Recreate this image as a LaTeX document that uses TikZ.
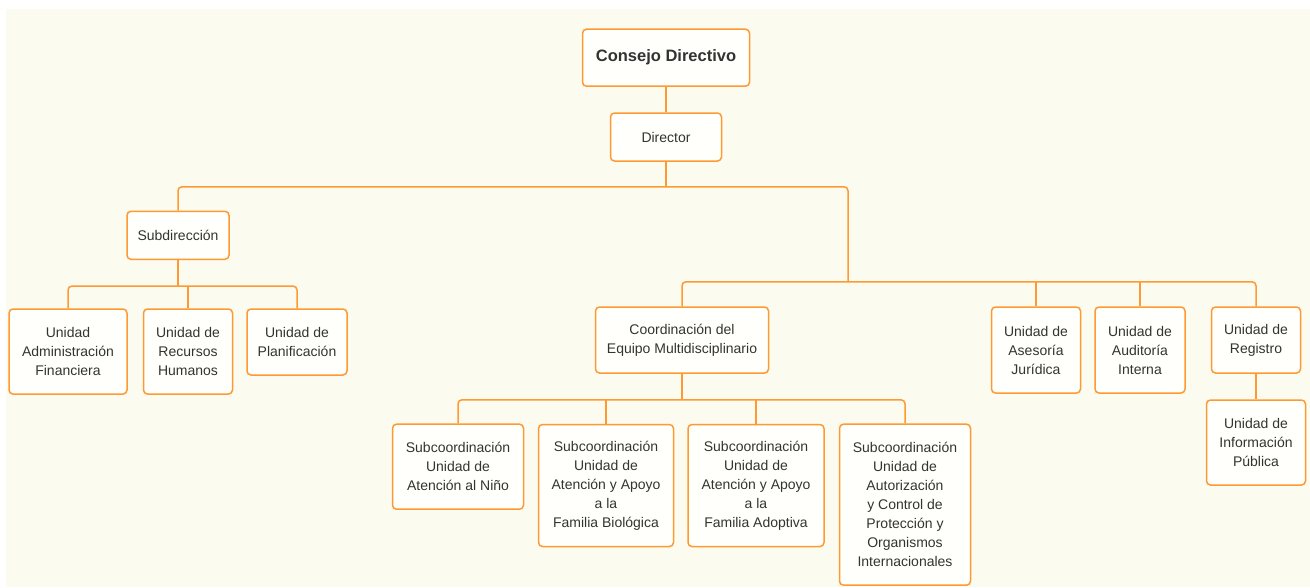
\documentclass[tikz,border=0pt]{standalone}
\usepackage{fontspec}
\setmainfont{Liberation Sans}
\usepackage{tikz}
\usetikzlibrary{calc}
\usetikzlibrary{positioning}
\definecolor{orgorange}{RGB}{255,153,51}
\definecolor{bgcream}{RGB}{251,251,240}
\definecolor{boxfill}{RGB}{255,255,251}
\definecolor{textgray}{RGB}{51,51,51}
\tikzstyle{orgnode} = [draw=orgorange, line width=1.5pt, rounded corners=4pt, fill=boxfill, text=textgray, align=center, inner sep=0pt, font=\fontsize{14}{19}\selectfont]
\tikzstyle{topnode} = [font=\fontsize{16.5}{20}\selectfont\bfseries]
\tikzstyle{orgline} = [draw=orgorange, line width=1.5pt, rounded corners=4pt]

\begin{document}
\begin{tikzpicture}[x=1pt, y=1pt]
\useasboundingbox (0,0) rectangle (1310,-587);
\fill[white] (0,0) rectangle (1310,-587);
\fill[bgcream] (6,-9) rectangle (1310,-587);

\node[orgnode, topnode, minimum width=167, minimum height=57] (consejo) at (666,-57.7) {Consejo Directivo};
\node[orgnode, minimum width=111, minimum height=48] (director) at ($(consejo)+(0,-79.3)$) {Director};

\node[orgnode, minimum width=102, minimum height=48] (subdir) at ($(director)+(-488,-98.3)$) {Subdirección};
\node[orgnode, minimum width=118, minimum height=85] (uaf) at ($(subdir)+(-110,-116.2)$) {Unidad\\Administración\\Financiera};
\node[orgnode, minimum width=89, minimum height=85] (urh) at ($(subdir)+(10,-116.2)$) {Unidad de\\Recursos\\Humanos};
\node[orgnode, minimum width=100, minimum height=66] (upl) at ($(subdir)+(119,-106.7)$) {Unidad de\\Planificación};

\node[orgnode, minimum width=173, minimum height=66] (coord) at ($(director)+(16,-203)$) {Coordinación del\\Equipo Multidisciplinario};
\node[orgnode, minimum width=89, minimum height=86] (asesoria) at ($(coord)+(354,-10)$) {Unidad de\\Asesoría\\Jurídica};
\node[orgnode, minimum width=90, minimum height=86] (auditoria) at ($(asesoria)+(104,0)$) {Unidad de\\Auditoría\\Interna};
\node[orgnode, minimum width=89, minimum height=66] (registro) at ($(coord)+(574,0)$) {Unidad de\\Registro};
\node[orgnode, minimum width=99, minimum height=85] (infopub) at ($(registro)+(0,-102.5)$) {Unidad de\\Información\\Pública};

\node[orgnode, minimum width=131, minimum height=85] (nino) at ($(coord)+(-224,-126.7)$) {Subcoordinación\\Unidad de\\Atención al Niño};
\node[orgnode, minimum width=135, minimum height=122] (biologica) at ($(coord)+(-76,-145.5)$) {Subcoordinación\\Unidad de\\Atención y Apoyo\\a la\\Familia Biológica};
\node[orgnode, minimum width=136, minimum height=122] (adoptiva) at ($(coord)+(74,-145.5)$) {Subcoordinación\\Unidad de\\Atención y Apoyo\\a la\\Familia Adoptiva};
\node[orgnode, minimum width=131, minimum height=161] (autoriza) at ($(coord)+(223,-164.7)$) {Subcoordinación\\Unidad de\\Autorización\\y Control de\\Protección y\\Organismos\\Internacionales};

\coordinate (dir_bus) at ($(director.south)+(0,-25)$);
\coordinate (right_bus) at ($(dir_bus)+(182,-95)$);
\coordinate (sub_bus) at ($(subdir.south)+(0,-26)$);
\coordinate (coord_bus) at ($(coord.south)+(0,-26)$);

\draw[orgline] (consejo) -- (director);
\draw[orgline] (director) -- (dir_bus);
\draw[orgline] (subdir.north) |- (dir_bus);
\draw[orgline] (dir_bus) -| (right_bus);

\draw[orgline] (subdir) -- (sub_bus);
\draw[orgline] (uaf.north) |- (sub_bus);
\draw[orgline] (urh.north) -- (urh.north |- sub_bus);
\draw[orgline] (upl.north) |- (sub_bus);

\draw[orgline] (coord.north) |- (right_bus);
\draw[orgline] (asesoria.north) -- (asesoria.north |- right_bus);
\draw[orgline] (auditoria.north) -- (auditoria.north |- right_bus);
\draw[orgline] (registro.north) |- (right_bus);
\draw[orgline] (registro) -- (infopub);

\draw[orgline] (coord) -- (coord_bus);
\draw[orgline] (nino.north) |- (coord_bus);
\draw[orgline] (biologica.north) -- (biologica.north |- coord_bus);
\draw[orgline] (adoptiva.north) -- (adoptiva.north |- coord_bus);
\draw[orgline] (autoriza.north) |- (coord_bus);
\end{tikzpicture}
\end{document}
